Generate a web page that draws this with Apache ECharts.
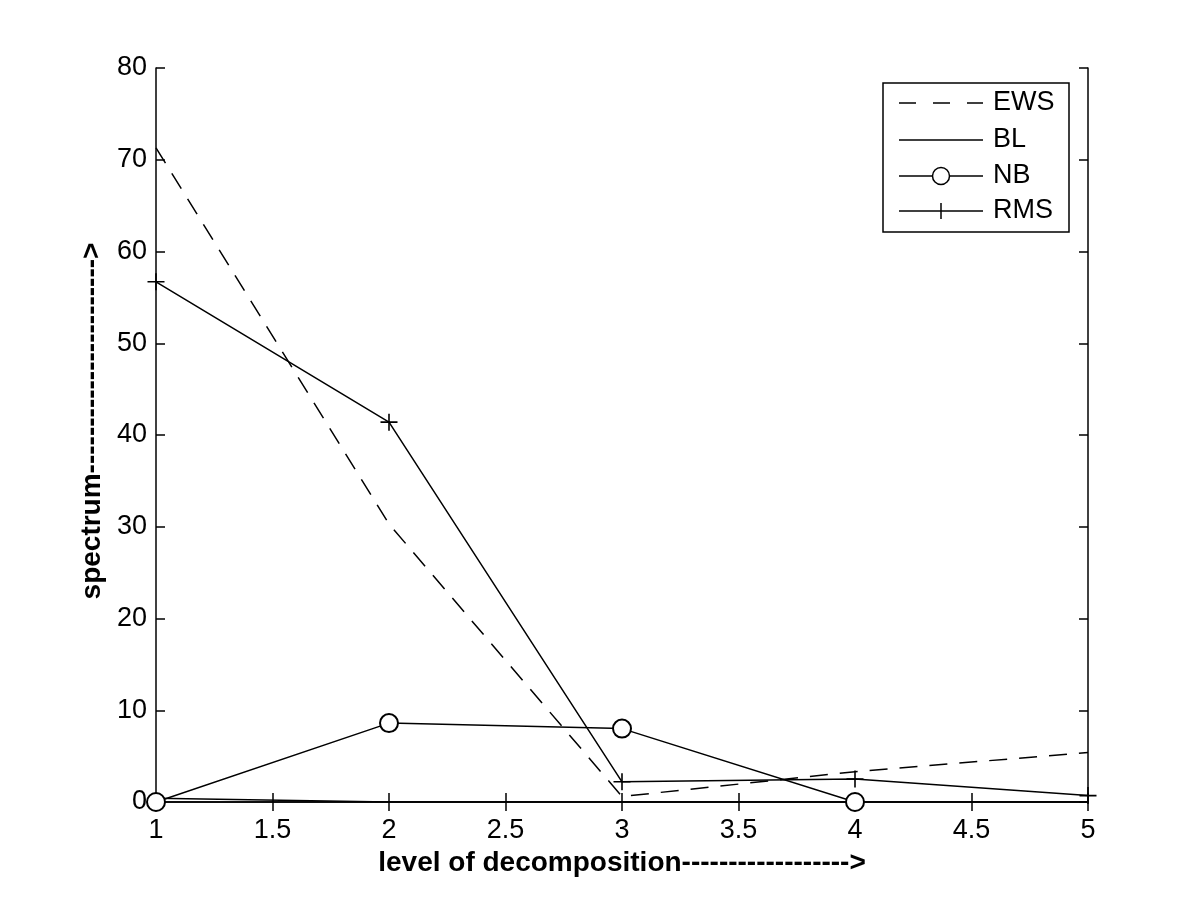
<!DOCTYPE html>
<html><head><meta charset="utf-8">
<script src="https://cdn.jsdelivr.net/npm/echarts@6/dist/echarts.min.js"></script>
<style>html,body{margin:0;padding:0;background:#fff}#c{width:1200px;height:902px}</style>
</head><body><div id="c"></div>
<script>
const levels = [1, 2, 3, 4, 5];
const ews = [71.3, 30.3, 0.6, 3.3, 5.4];
const bl  = [0.4, 0, 0, 0, 0];
const nb  = [0, 8.6, 8.0, 0, null];
const rms = [56.7, 41.4, 2.2, 2.5, 0.7];
const xTicks = [1, 1.5, 2, 2.5, 3, 3.5, 4, 4.5, 5];
const yTicks = [0, 10, 20, 30, 40, 50, 60, 70, 80];
const legendNames = ['EWS', 'BL', 'NB', 'RMS'];
const xTitle = 'level of decomposition------------------>';
const yTitle = 'spectrum----------------------->';

const pair = arr => levels.map((x, i) => [x, arr[i]]).filter(p => p[1] !== null);
const FONT = '"Liberation Sans", Arial, Helvetica, sans-serif';
const plus = 'path://M0,5L10,5M5,0L5,10';
const LW = 1.5;

const chart = echarts.init(document.getElementById('c'));
const axisCommon = {
  axisLine: {lineStyle: {color: '#000', width: LW}},
  axisTick: {inside: true, length: 9, lineStyle: {color: '#000', width: LW}},
  splitLine: {show: false}
};

// legend drawn as graphic
const lgX = 883, lgY = 83, lgW = 186, lgH = 149;
const rowY = [103, 140, 176, 211];
const lx1 = 899, lx2 = 983, tx = 993;
const g = [{type: 'rect', shape: {x: lgX, y: lgY, width: lgW, height: lgH},
  style: {fill: '#fff', stroke: '#000', lineWidth: LW}, z: 100}];
legendNames.forEach((n, i) => {
  const y = rowY[i];
  g.push({type: 'line', shape: {x1: lx1, y1: y, x2: lx2, y2: y},
    style: {stroke: '#000', lineWidth: LW, lineDash: i === 0 ? [17, 17] : null}, z: 101});
  if (n === 'NB') g.push({type: 'circle', shape: {cx: 941, cy: y, r: 8.5},
    style: {fill: '#fff', stroke: '#000', lineWidth: LW}, z: 102});
  if (n === 'RMS') g.push({type: 'line', shape: {x1: 941, y1: y - 8, x2: 941, y2: y + 8},
    style: {stroke: '#000', lineWidth: LW}, z: 102});
  g.push({type: 'text', x: tx, y: y, z: 102,
    style: {text: n, font: '27px ' + FONT, fill: '#000', textVerticalAlign: 'middle', verticalAlign: 'middle'}});
});

chart.setOption({
  animation: false,
  backgroundColor: '#fff',
  grid: {left: 156, right: 112, top: 68, bottom: 100},
  xAxis: [
    Object.assign({type: 'value', min: 1, max: 5, interval: 0.5, position: 'bottom',
      name: xTitle, nameLocation: 'middle', nameGap: 45,
      nameTextStyle: {fontFamily: FONT, fontSize: 28, fontWeight: 'bold', color: '#000'},
      axisLabel: {fontFamily: FONT, fontSize: 27, color: '#000', margin: 15,
        formatter: v => xTicks.includes(v) ? String(v) : ''}}, axisCommon),
    Object.assign({type: 'value', min: 1, max: 5, interval: 0.5, position: 'top',
      axisLabel: {show: false}}, axisCommon)
  ],
  yAxis: [
    Object.assign({type: 'value', min: 0, max: 80, interval: 10, position: 'left',
      name: yTitle, nameLocation: 'middle', nameGap: 50,
      nameTextStyle: {fontFamily: FONT, fontSize: 28, fontWeight: 'bold', color: '#000', padding: [0, 0, 0, 28]},
      axisLabel: {fontFamily: FONT, fontSize: 27, color: '#000', margin: 9,
        formatter: v => yTicks.includes(v) ? String(v) : ''}}, axisCommon),
    Object.assign({type: 'value', min: 0, max: 80, interval: 10, position: 'right',
      axisLabel: {show: false}}, axisCommon)
  ],
  graphic: g,
  series: [
    {name: 'EWS', type: 'line', data: pair(ews), symbol: 'none',
      lineStyle: {color: '#000', width: LW, type: [18, 12]}, itemStyle: {color: '#000'}},
    {name: 'BL', type: 'line', data: pair(bl), symbol: 'none',
      lineStyle: {color: '#000', width: LW}, itemStyle: {color: '#000'}},
    {name: 'NB', type: 'line', data: pair(nb), symbol: 'emptyCircle', symbolSize: 18,
      lineStyle: {color: '#000', width: LW},
      itemStyle: {color: '#000', borderColor: '#000', borderWidth: LW}},
    {name: 'RMS', type: 'line', data: pair(rms), symbol: plus, symbolSize: 17,
      lineStyle: {color: '#000', width: LW},
      itemStyle: {color: 'none', borderColor: '#000', borderWidth: 1.6}}
  ]
});
</script></body></html>
